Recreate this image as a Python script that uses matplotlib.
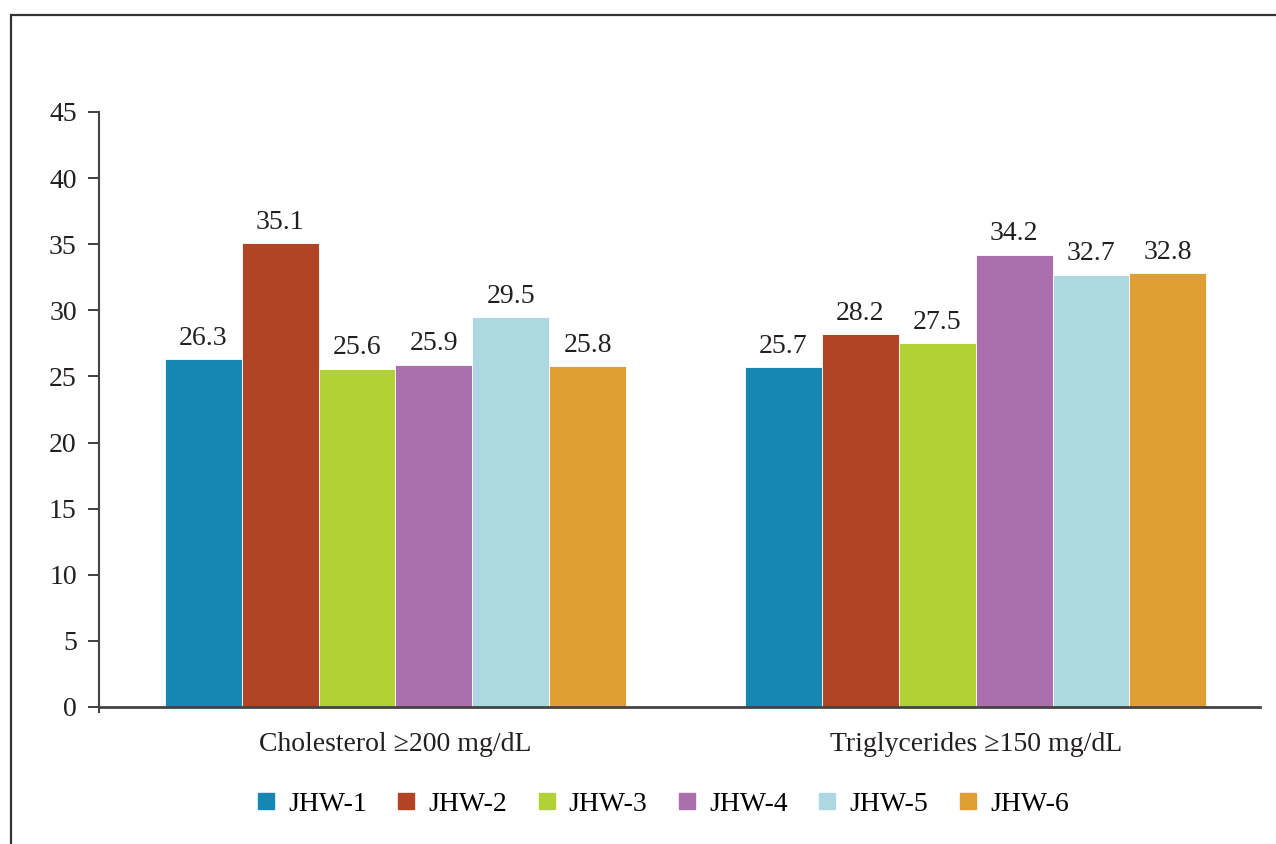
import numpy as np
import matplotlib.pyplot as plt
from matplotlib.patches import Rectangle
from matplotlib.lines import Line2D

plt.rcParams['font.family'] = ['Liberation Serif', 'DejaVu Serif']

categories = ['Cholesterol \u2265200 mg/dL', 'Triglycerides \u2265150 mg/dL']
series = ['JHW-1', 'JHW-2', 'JHW-3', 'JHW-4', 'JHW-5', 'JHW-6']
values = {
    'JHW-1': [26.3, 25.7],
    'JHW-2': [35.1, 28.2],
    'JHW-3': [25.6, 27.5],
    'JHW-4': [25.9, 34.2],
    'JHW-5': [29.5, 32.7],
    'JHW-6': [25.8, 32.8],
}
colors = ['#1686B2', '#B04425', '#B1D235', '#AC6FAE', '#ADD8E1', '#E09F33']
yticks = [0, 5, 10, 15, 20, 25, 30, 35, 40, 45]

W, H = 1276, 844
fig = plt.figure(figsize=(W / 100, H / 100), dpi=100)
ax = fig.add_axes([99 / W, 1 - 707 / H, (1260 - 99) / W, (707 - 112) / H])

x = np.arange(len(categories))
bw = 0.1325
fs = 20
for i, (name, col) in enumerate(zip(series, colors)):
    pos = x + (i - 2.5) * bw
    bars = ax.bar(pos, values[name], width=bw, color=col, edgecolor='white',
                  linewidth=0.6, label=name, zorder=2)
    for b, v in zip(bars, values[name]):
        ax.annotate(f'{v:.1f}', (b.get_x() + b.get_width() / 2, v),
                    xytext=(0, 6), textcoords='offset points',
                    ha='center', va='bottom', fontsize=fs, color='#231F20')

ax.set_xlim(-0.511, 1.49)
ax.set_ylim(0, 45)
ax.set_yticks(yticks)
ax.set_xticks(x)
ax.set_xticklabels(categories)
ax.tick_params(axis='x', length=0, pad=18, labelsize=fs, colors='#231F20')
ax.tick_params(axis='y', length=8, width=1.2, direction='out', pad=8,
               labelsize=fs, colors='#231F20')
for s in ['top', 'right']:
    ax.spines[s].set_visible(False)
ax.spines['left'].set_color('#444444')
ax.spines['left'].set_linewidth(1.5)
ax.spines['bottom'].set_color('#444444')
ax.spines['bottom'].set_linewidth(2)
ax.spines['left'].set_bounds(-0.4, 45)

handles = [Line2D([], [], marker='s', linestyle='none', markersize=11.5,
                  markerfacecolor=c, markeredgecolor=c) for c in colors]
fig.legend(handles, series, loc='center', bbox_to_anchor=(663 / W, 1 - 804 / H),
           ncol=6, frameon=False, fontsize=fs, handlelength=0.6,
           handletextpad=0.5, columnspacing=1.12)

fig.patches.append(Rectangle((11 / W, -0.1), 1.2, 1.1 - 15 / H,
                             transform=fig.transFigure, fill=False,
                             edgecolor='#333333', linewidth=1.6))

fig.savefig('out.png', dpi=100)
